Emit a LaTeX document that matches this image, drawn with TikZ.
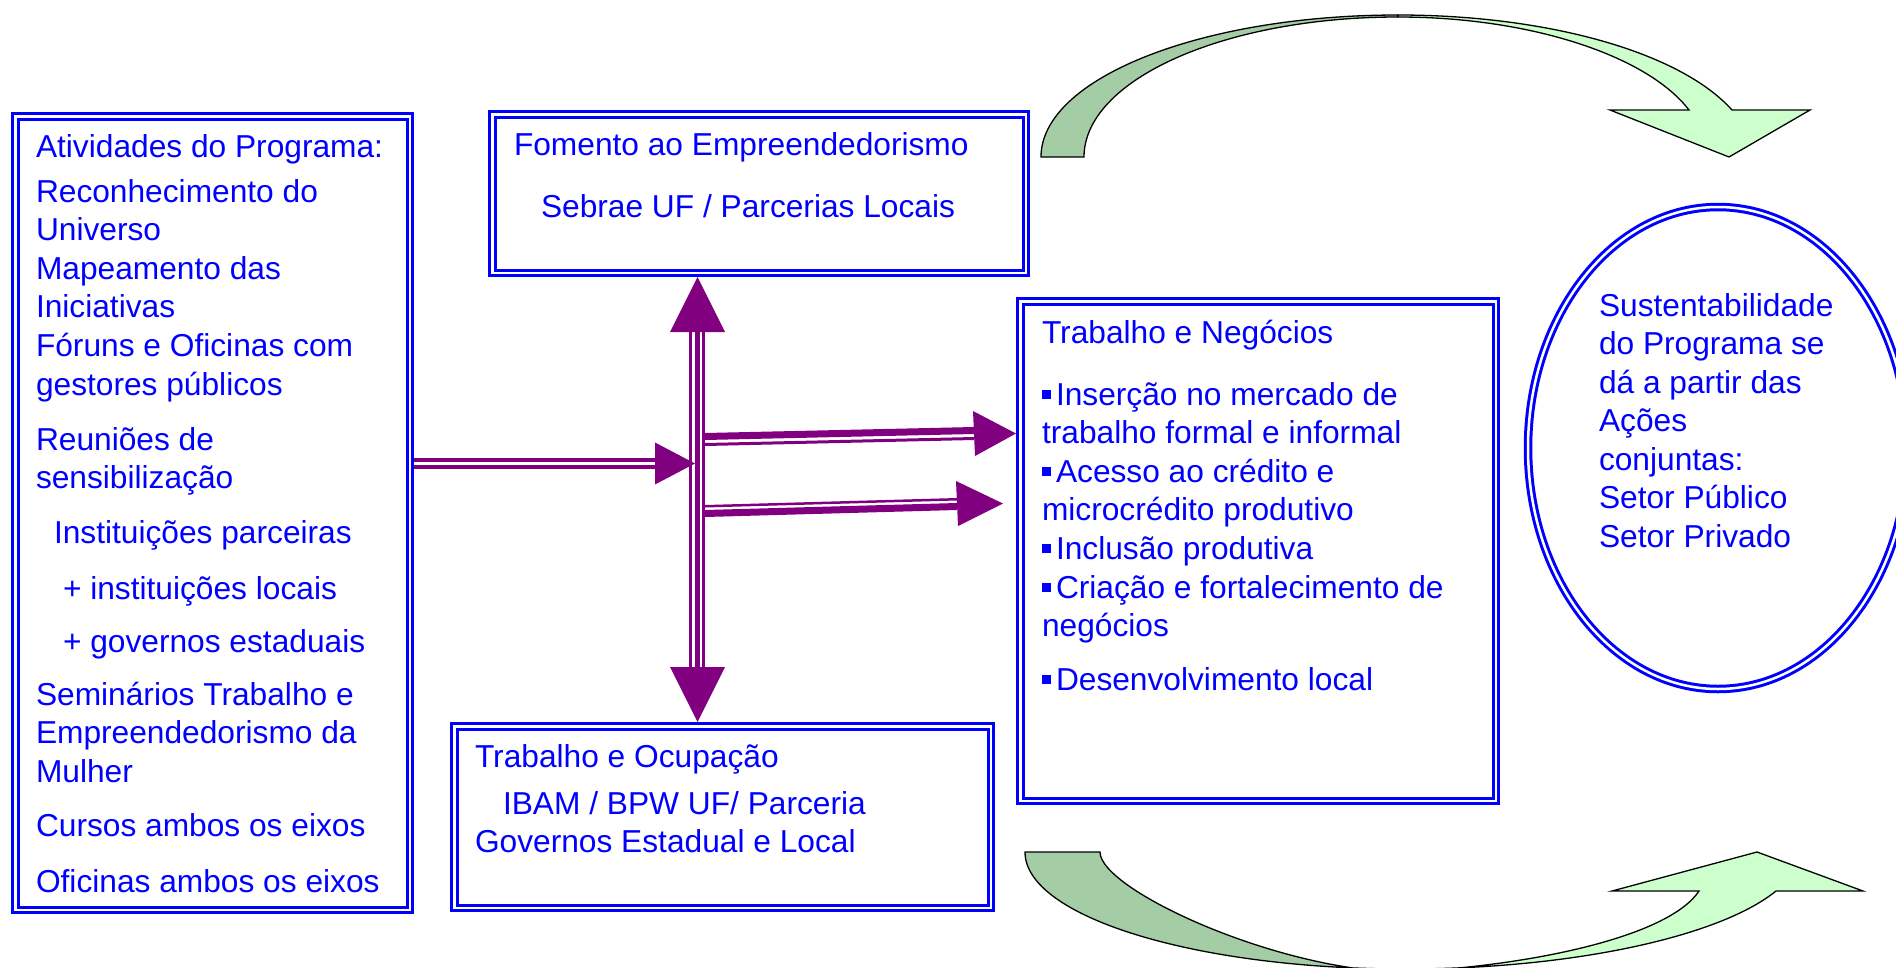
\documentclass[tikz,border=0pt]{standalone}
\usepackage{fontspec}
\setmainfont{Liberation Sans}
\usetikzlibrary{shapes.geometric,calc}
\definecolor{bxblue}{RGB}{0,0,255}
\definecolor{purp}{RGB}{128,0,128}
\definecolor{arrdark}{RGB}{165,205,165}
\definecolor{arrlight}{RGB}{204,255,204}
\newcommand{\bul}{\rule[6.5pt]{9pt}{9pt}\hspace{5pt}}
\begin{document}
\begin{tikzpicture}[x=1pt,y=-1pt,
  dbox/.style={draw=bxblue, line width=3pt, double=white, double distance=2.5pt, rectangle, inner sep=0pt, outer sep=4.25pt, anchor=north west},
  dell/.style={draw=bxblue, line width=3pt, double=white, double distance=2.5pt, ellipse, inner sep=0pt, outer sep=4.25pt},
  txt/.style={anchor=base west, inner sep=0pt, outer sep=0pt, text=bxblue, font=\fontsize{31.7}{38.6}\selectfont},
  garrow/.style={line width=1.3pt, draw=black, line join=miter}]
\useasboundingbox (0,0) rectangle (1896,967);
\clip (0,0) rectangle (1896,967);

% boxes
\node[dbox, minimum width=394.5pt, minimum height=793.5pt] (L) at (11,112) {};
\node[dbox, minimum width=533.5pt, minimum height=158.5pt] (F) at (488,110) {};
\node[dbox, minimum width=536.5pt, minimum height=181.5pt] (O) at (450,722) {};
\node[dbox, minimum width=475.5pt, minimum height=499.5pt] (N) at (1016,297) {};
\node[dell, minimum width=380pt, minimum height=482pt] (E) at (1718,448) {};

% texts
\node[txt] (Lt) at (36,157) {\parbox[t]{390pt}{Atividades do Programa:\\[6.5pt]
Reconhecimento do\\
Universo\\
Mapeamento das\\
Iniciativas\\
Fóruns e Oficinas com\\
gestores públicos\\[16.5pt]
Reuniões de\\
sensibilização\\[16.5pt]
\hspace*{18pt}Instituições parceiras\\[16.5pt]
\hspace*{27pt}+ instituições locais\\[14.5pt]
\hspace*{27pt}+ governos estaduais\\[14.5pt]
Seminários Trabalho e\\
Empreendedorismo da\\
Mulher\\[15.5pt]
Cursos ambos os eixos\\[17pt]
Oficinas ambos os eixos}};

\node[txt] (Ft) at (514,155) {\parbox[t]{500pt}{Fomento ao Empreendedorismo\\[23.4pt]\hspace*{27pt}Sebrae UF / Parcerias Locais}};

\node[txt] (Ot) at (475,767) {\parbox[t]{500pt}{Trabalho e Ocupação\\[8.4pt]\hspace*{28pt}IBAM / BPW UF/ Parceria\\Governos Estadual e Local}};

\node[txt] (Nt) at (1042,343) {\parbox[t]{460pt}{Trabalho e Negócios\\[23.4pt]
\bul Inserção no mercado de\\
trabalho formal e informal\\
\bul Acesso ao crédito e\\
microcrédito produtivo\\
\bul Inclusão produtiva\\
\bul Criação e fortalecimento de\\
negócios\\[15pt]
\bul Desenvolvimento local}};

\node[txt, font=\fontsize{31.7}{38.5}\selectfont] (Et) at (1599,316) {\parbox[t]{290pt}{Sustentabilidade\\do Programa se\\dá a partir das\\Ações\\conjuntas:\\Setor Público\\Setor Privado}};

% purple connectors
\coordinate (hx) at (697.5,0);
\coordinate (upTip) at (hx |- F.south);
\coordinate (dnTip) at (hx |- O.north);
\fill[purp] ($(upTip)+(-8.5,54)$) rectangle ($(dnTip)+(7.5,-54)$);
\fill[white] ($(upTip)+(-5.5,54)$) rectangle ($(dnTip)+(-2.5,-54)$);
\fill[white] ($(upTip)+(2.5,54)$) rectangle ($(dnTip)+(4.5,-54)$);
\fill[purp] (upTip) -- ++(-27.5,55) -- ++(55,0) -- cycle;
\fill[purp] (dnTip) -- ++(-27.5,-55) -- ++(55,0) -- cycle;

\coordinate (hy) at (0,463.5);
\coordinate (lA) at (L.east |- hy);
\coordinate (lTip) at (695,463.5);
\draw[purp, line width=4pt] ($(lA)+(0,-3.5)$) -- ($(lTip)+(-39,-3.5)$);
\draw[purp, line width=4pt] ($(lA)+(0,3.5)$) -- ($(lTip)+(-39,3.5)$);
\fill[purp] (lTip) -- ++(-40,-21) -- ++(0,42) -- cycle;

\coordinate (a1tip) at (1016,433.5);
\draw[purp, line width=7pt] (705,436.5) -- (974,430.5);
\draw[purp, line width=3pt] (705,444.5) -- (974,438.5);
\fill[purp] (a1tip) -- (973,411) -- (975,456) -- cycle;

\coordinate (a2tip) at (1003,503.5);
\draw[purp, line width=2.5pt] (705,506.25) -- (957,499.25);
\draw[purp, line width=7pt] (705,513.5) -- (957,506.5);
\fill[purp] (a2tip) -- (956,481) -- (958,526) -- cycle;

% top curved arrow
\filldraw[garrow, fill=arrdark] (1041,157) .. controls (1041,78.6) and (1200.8,15) .. (1398,15) -- (1398,17) .. controls (1224.6,17) and (1084,79.7) .. (1084,157) -- cycle;
\filldraw[garrow, fill=arrlight] (1398,15) .. controls (1546.3,15) and (1679.7,51.7) .. (1732,110) -- (1810,110) -- (1729,157) -- (1610,110) -- (1689,110) .. controls (1647,55.4) and (1529.8,17) .. (1398,17) -- cycle;

% bottom curved arrow
\filldraw[garrow, fill=arrdark] (1025,852) .. controls (1025,916.6) and (1195.1,969) .. (1405,969) -- (1405,972) .. controls (1280,972) and (1100,890) .. (1100,852) -- cycle;
\filldraw[garrow, fill=arrlight] (1405,969) .. controls (1571,969) and (1719.3,937) .. (1776,891) -- (1863,891) -- (1757,852) -- (1612,891) -- (1699,891) .. controls (1670,935) and (1540,965) .. (1405,972) -- cycle;
\end{tikzpicture}
\end{document}
